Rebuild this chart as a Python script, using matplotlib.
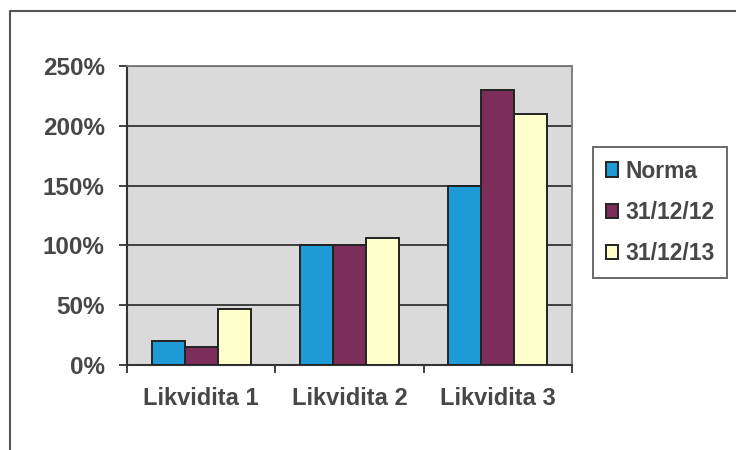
import matplotlib
matplotlib.use("Agg")
import matplotlib.pyplot as plt
from matplotlib.lines import Line2D
import numpy as np

categories = ["Likvidita 1", "Likvidita 2", "Likvidita 3"]
series_names = ["Norma", "31/12/12", "31/12/13"]
norma = [20, 100, 150]
d2012 = [15, 100, 230]
d2013 = [47, 106, 210]
y_ticks = [0, 50, 100, 150, 200, 250]
y_tick_labels = ["0%", "50%", "100%", "150%", "200%", "250%"]

colors = ["#1E9AD6", "#7D2D5A", "#FFFFCC"]
text_color = "#474747"

plt.rcParams['font.family'] = ['Liberation Sans', 'DejaVu Sans']

W, H = 736, 450
fig = plt.figure(figsize=(W / 100, H / 100), dpi=100)
fig.patch.set_facecolor("white")

ax = fig.add_axes([127 / W, 1 - 365 / H, (572 - 127) / W, (365 - 66) / H])
ax.set_facecolor("#DADADA")

x = np.arange(len(categories))
bw = 0.222
series = [norma, d2012, d2013]
handles = []
for i, (vals, name, c) in enumerate(zip(series, series_names, colors)):
    b = ax.bar(x + (i - 1) * bw, vals, width=bw, color=c, edgecolor="#222222",
               linewidth=1.4, label=name, zorder=3)
    handles.append(b)

ax.set_xlim(-0.5, len(categories) - 0.5)
ax.set_ylim(0, 250)
ax.set_yticks(y_ticks)
ax.set_yticklabels(y_tick_labels)
ax.yaxis.grid(True, color="#333333", linewidth=1.3, zorder=1)
ax.set_axisbelow(True)

ax.set_xticks(x)
ax.set_xticklabels(categories)
ax.set_xticks(np.arange(-0.5, len(categories), 1.0), minor=True)
ax.tick_params(axis="x", which="major", length=0, pad=16, labelsize=17,
               labelcolor=text_color)
ax.tick_params(axis="x", which="minor", length=6, width=1.3, color="#333333",
               direction="out")
ax.tick_params(axis="y", which="major", length=6, width=1.3, color="#333333",
               direction="out", pad=10, labelsize=17.5, labelcolor=text_color)
for lab in ax.get_xticklabels() + ax.get_yticklabels():
    lab.set_fontweight("bold")

for s in ["top", "right"]:
    ax.spines[s].set_color("#777777")
    ax.spines[s].set_linewidth(1.3)
for s in ["left", "bottom"]:
    ax.spines[s].set_color("#333333")
    ax.spines[s].set_linewidth(1.5)

leg = fig.legend(handles=handles, labels=series_names, loc="upper left",
                 bbox_to_anchor=(593 / W, 1 - 147 / H), frameon=True,
                 fancybox=False, shadow=False, handlelength=0.55, handleheight=0.6,
                 handletextpad=0.3, labelspacing=0.8, borderpad=0.55,
                 borderaxespad=0, prop={"size": 16.5, "weight": "bold"})
leg.get_frame().set_edgecolor("#444444")
leg.get_frame().set_linewidth(1.4)
for t in leg.get_texts():
    t.set_color(text_color)

# outer chart frame (partially cropped in the scan)
fig.add_artist(Line2D([10 / W, 10 / W, 1.0], [0.0, 1 - 11 / H, 1 - 11 / H],
                      transform=fig.transFigure, color="#555555", linewidth=1.5))

fig.savefig("out.png", dpi=100)
